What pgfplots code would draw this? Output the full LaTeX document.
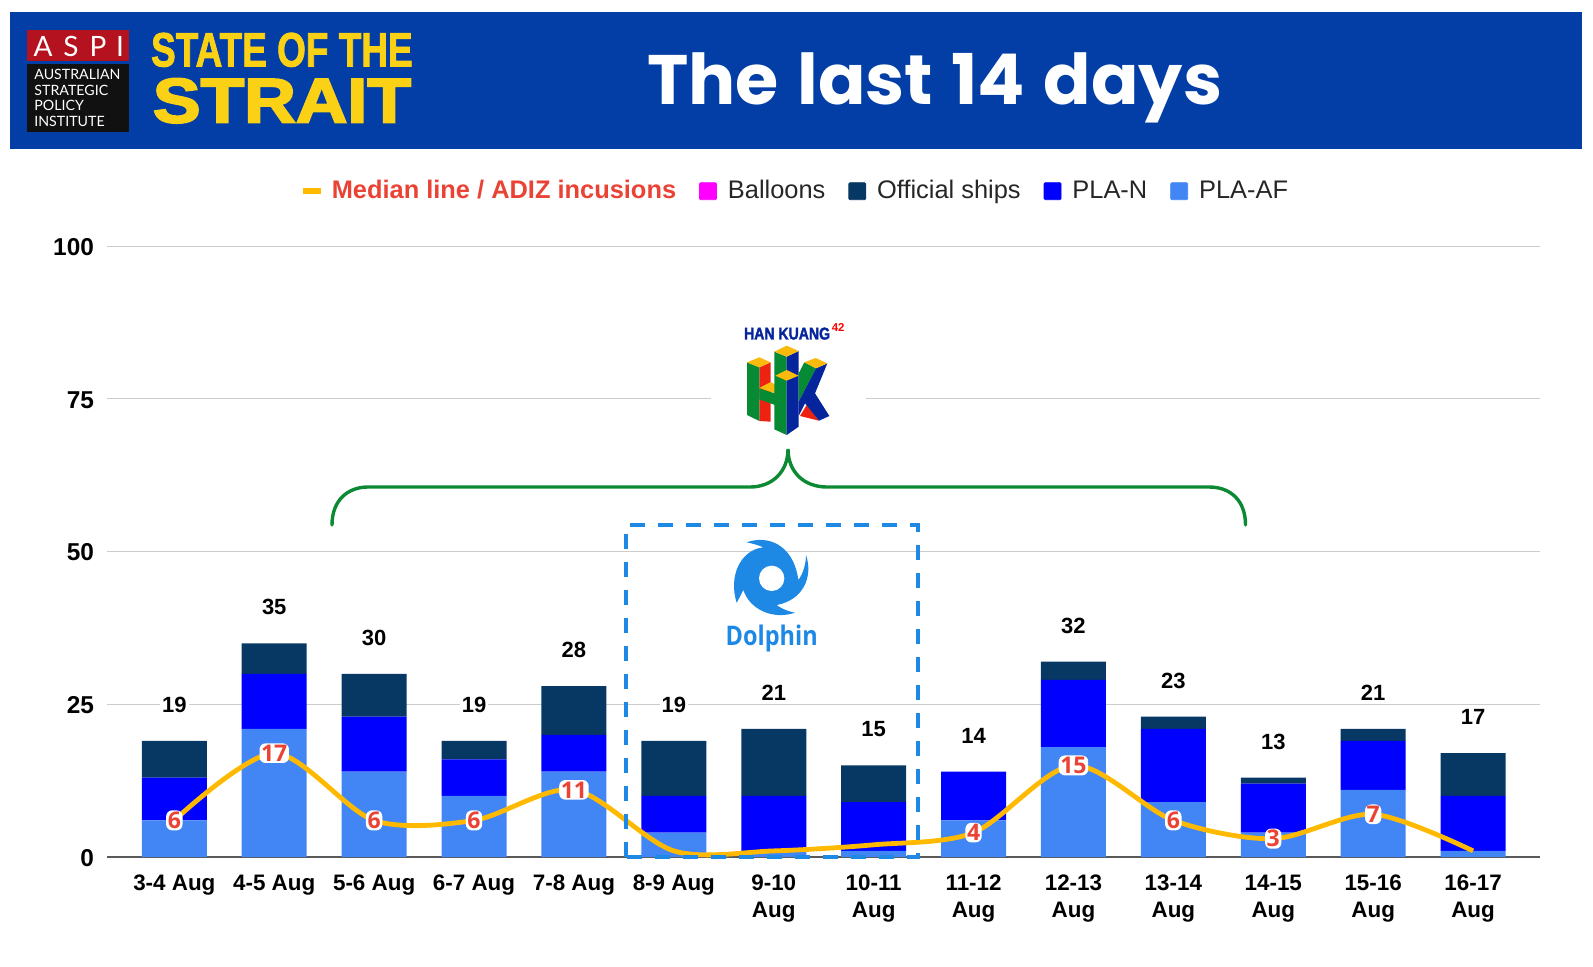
\documentclass[border=0pt]{standalone}
\usepackage{fontspec}
\usepackage{pgfplots}
\usepackage{pgfplotstable}
\pgfplotsset{compat=1.18}
\setmainfont{Liberation Sans}
\newfontfamily\popfont[WordSpace=1.25]{Poppins}
\newfontfamily\heavyfont[BoldFeatures={FakeBold=2}]{Liberation Sans}
\newfontfamily\heavierfont[BoldFeatures={FakeBold=3}]{Liberation Sans}
\newfontfamily\logofont{Lato}
\newfontfamily\halofont{Open Sans}
\newfontfamily\dolphinfont{Open Sans}
\definecolor{afblue}{HTML}{4285F4}
\definecolor{nblue}{HTML}{0000FF}
\definecolor{shipnavy}{HTML}{073763}
\definecolor{balloon}{HTML}{FF00FF}
\definecolor{medline}{HTML}{FFB900}
\definecolor{medred}{HTML}{EA4335}
\definecolor{header}{HTML}{023EA5}
\definecolor{stateyellow}{HTML}{FBD116}
\definecolor{aspired}{HTML}{B3121E}
\definecolor{aspiblack}{HTML}{111111}
\definecolor{bracegreen}{HTML}{0B8A33}
\definecolor{storm}{HTML}{1E88E5}
\definecolor{hkgreen}{HTML}{068A33}
\definecolor{hkblue}{HTML}{06249C}
\definecolor{hkred}{HTML}{EE2211}
\definecolor{hkyellow}{HTML}{F9B90D}
\pgfplotstableread{
x af n ship balloon total median
0 6 7 6 0 19 6
1 21 9 5 0 35 17
2 14 9 7 0 30 6
3 10 6 3 0 19 6
4 14 6 8 0 28 11
5 4 6 9 0 19 1
6 1 9 11 0 21 1
7 1 8 6 0 15 2
8 6 8 0 0 14 4
9 18 11 3 0 32 15
10 9 12 2 0 23 6
11 4 8 1 0 13 3
12 11 8 2 0 21 7
13 1 9 7 0 17 1
}\datatable
\pgfplotstableread{
x y
0 6
1 17
2 6
3 6
4 11
8 4
9 15
10 6
11 3
12 7
}\medlabels
\begin{document}
\begin{tikzpicture}
\path[use as bounding box] (0,0) rectangle (796.5pt,483pt);
\begin{axis}[
  at={(53.5pt,54.5pt)}, anchor=south west,
  scale only axis, width=716.5pt, height=305.35pt,
  ybar stacked, bar width=32.5pt,
  xmin=-0.674, xmax=13.67, ymin=0, ymax=100,
  axis x line*=bottom, axis y line*=left,
  y axis line style={draw=none},
  x axis line style={draw=black!65, line width=0.6pt, -},
  major tick length=0pt,
  ytick={0,25,50,75,100},
  ymajorgrids, grid style={draw=black!20, line width=0.5pt},
  xtick={0,...,13},
  xticklabels={3-4 Aug,4-5 Aug,5-6 Aug,6-7 Aug,7-8 Aug,8-9 Aug,9-10\\Aug,10-11\\Aug,11-12\\Aug,12-13\\Aug,13-14\\Aug,14-15\\Aug,15-16\\Aug,16-17\\Aug},
  xticklabel style={align=center, font=\fontsize{11.2}{13.5}\selectfont\bfseries, yshift=-5.6pt},
  yticklabel style={font=\fontsize{12.2}{13}\selectfont\bfseries, /pgf/number format/assume math mode=true, xshift=-3pt, yshift=-0.4pt},
  legend style={at={(0.5,1)}, anchor=south, xshift=-13pt, yshift=18pt, draw=none, fill=none,
     legend columns=5, font=\fontsize{12.7}{14}\selectfont, text=black!85,
     /tikz/every even column/.append style={column sep=9.5pt},
     /tikz/every odd column/.append style={column sep=3.5pt}},
  legend cell align=left,
]
\addlegendimage{legend image code/.code={\fill[medline] (0pt,-1.2pt) rectangle (8.5pt,1.2pt);}}
\addlegendentry{\textcolor{medred}{\textbf{Median line / ADIZ incusions}}}
\addlegendimage{legend image code/.code={\fill[balloon,rounded corners=0.6pt] (0pt,-4.25pt) rectangle (8.5pt,4.25pt);}}
\addlegendentry{Balloons}
\addlegendimage{legend image code/.code={\fill[shipnavy,rounded corners=0.6pt] (0pt,-4.25pt) rectangle (8.5pt,4.25pt);}}
\addlegendentry{Official ships}
\addlegendimage{legend image code/.code={\fill[nblue,rounded corners=0.6pt] (0pt,-4.25pt) rectangle (8.5pt,4.25pt);}}
\addlegendentry{PLA-N}
\addlegendimage{legend image code/.code={\fill[afblue,rounded corners=0.6pt] (0pt,-4.25pt) rectangle (8.5pt,4.25pt);}}
\addlegendentry{PLA-AF}
\addplot[fill=afblue, draw=none, forget plot] table[x=x,y=af] {\datatable};
\addplot[fill=nblue, draw=none, forget plot] table[x=x,y=n] {\datatable};
\addplot[fill=shipnavy, draw=none, forget plot] table[x=x,y=ship] {\datatable};
\addplot[fill=balloon, draw=none, forget plot] table[x=x,y=balloon] {\datatable};
\end{axis}
\begin{axis}[
  at={(53.5pt,54.5pt)}, anchor=south west,
  scale only axis, width=716.5pt, height=305.35pt,
  xmin=-0.674, xmax=13.67, ymin=0, ymax=100,
  hide axis, clip=false,
]
\addplot[smooth, tension=0.5, color=medline, line width=2.4pt, mark=none] table[x=x,y=median] {\datatable};
\addplot[draw=none, mark=none,
   nodes near coords={\color{medred}\fontsize{11.5}{11.5}\halofont\bfseries\pgfplotspointmeta},
   point meta=explicit symbolic,
   every node near coord/.style={anchor=center, fill=white, rounded corners=3pt, inner xsep=0.8pt, inner ysep=0.8pt}] table[x=x,y=y,meta=y] {\medlabels};
\addplot[draw=none, mark=none,
   nodes near coords={\fontsize{11}{11}\selectfont\bfseries\pgfplotspointmeta},
   point meta=explicit symbolic,
   every node near coord/.style={anchor=center, yshift=18pt, fill=white, inner sep=1pt}] table[x=x,y=total,meta=total] {\datatable};
\end{axis}
\begin{scope}[x=0.5pt,y=-0.5pt,shift={(0pt,483pt)}]
% header
\fill[header] (10,12.5) rectangle (1581.7,149.5);
\fill[aspired] (26.5,30) rectangle (129,61);
\fill[aspiblack] (26.5,64) rectangle (129,132.5);
\foreach \t/\p in {A/43,S/71,P/98,I/120}
  \node[white,anchor=center,inner sep=0pt,font=\logofont\fontsize{14}{14}\selectfont] at (\p,46.5) {\t};
\node[white,anchor=base west,inner sep=0pt,font=\logofont\fontsize{7.1}{7.3}\selectfont] at (34,80) {AUSTRALIAN};
\node[white,anchor=base west,inner sep=0pt,font=\logofont\fontsize{7.1}{7.3}\selectfont] at (34,96) {STRATEGIC};
\node[white,anchor=base west,inner sep=0pt,font=\logofont\fontsize{7.1}{7.3}\selectfont] at (34,111) {POLICY};
\node[white,anchor=base west,inner sep=0pt,font=\logofont\fontsize{7.1}{7.3}\selectfont] at (34,127) {INSTITUTE};
\node[anchor=south west,inner sep=0pt,stateyellow] at (150.7,67.3) {\resizebox{130.8pt}{16.8pt}{\heavyfont\bfseries STATE OF THE}};
\node[anchor=south west,inner sep=0pt,stateyellow] at (152.5,123.5) {\resizebox{129pt}{22pt}{\heavierfont\bfseries STRAIT}};
\node[white,anchor=base,inner sep=0pt,font=\popfont\bfseries\fontsize{35}{35}\selectfont] at (934.7,105) {The last 14 days};
% han kuang
\fill[white] (711,330) rectangle (866,440);
\begin{scope}[shift={(620,310)},x=0.16667pt,y=-0.16667pt]
\fill[hkred] (418,172)--(452,157)--(452,335)--(418,333)--cycle;
\fill[hkgreen] (381,157)--(418,172)--(418,333)--(381,315)--cycle;
\fill[hkyellow] (381,157)--(418,142)--(452,157)--(418,172)--cycle;
\fill[hkgreen] (418,235)--(465,250)--(465,285)--(418,268)--cycle;
\fill[hkyellow] (418,234)--(452,216)--(470,226)--(465,250)--cycle;
\fill[hkgreen] (463,125)--(500,140)--(500,375)--(463,358)--cycle;
\fill[hkblue] (500,140)--(536,123)--(536,350)--(500,375)--cycle;
\fill[hkyellow] (463,125)--(500,107)--(536,123)--(500,140)--cycle;
\fill[hkyellow] (466,197)--(500,180)--(536,197)--(500,212)--cycle;
\fill[hkred] (560,285)--(597,332)--(540,318)--cycle;
\fill[hkgreen] (553,157)--(588,175)--(536,275)--(536,190)--cycle;
\fill[hkblue] (588,175)--(622,160)--(585,250)--(628,318)--(597,332)--(555,280)--(536,318)--(536,275)--cycle;
\fill[hkyellow] (553,157)--(587,144)--(622,160)--(588,175)--cycle;
\node[anchor=south west,inner sep=0pt,hkblue] at (371,90) {\resizebox{43pt}{5.9pt}{\heavyfont\bfseries HAN KUANG}};
\node[anchor=south west,inner sep=0pt,red,font=\bfseries\fontsize{5.7}{6}\selectfont] at (634,66) {42};
\end{scope}
% brace
\draw[bracegreen,line width=1.7pt,line cap=round] (332,525) .. controls (332,500) and (348,487) .. (368,487) -- (750,487) .. controls (772,487) and (788,472) .. (788,449) .. controls (788,472) and (804,487) .. (827,487) -- (1209,487) .. controls (1230,487) and (1245.5,500) .. (1245.5,525);
% dolphin
\draw[storm,line width=2pt,dash pattern=on 7.5pt off 6.5pt] (626,857) -- (626,525) -- (918,525) -- (918,857) -- cycle;
\begin{scope}[shift={(620,310)},x=0.16667pt,y=-0.16667pt]
\fill[storm] (380,697) .. controls (440,675) and (520,700) .. (535,810) .. controls (550,790) and (558,760) .. (558,735) .. controls (580,800) and (550,870) .. (470,885) .. controls (490,900) and (510,905) .. (525,908) .. controls (460,930) and (390,900) .. (370,840) .. controls (365,850) and (355,870) .. (350,878) .. controls (325,800) and (360,720) .. (430,712) .. controls (415,705) and (395,700) .. (380,697) -- cycle;
\fill[white] (455,805) circle[radius=38];
\end{scope}
\node[storm,anchor=base,inner sep=0pt] at (771.7,645) {\scalebox{0.87}[1]{\dolphinfont\bfseries\fontsize{13.5}{14}\selectfont Dolphin}};
\end{scope}
\end{tikzpicture}
\end{document}
